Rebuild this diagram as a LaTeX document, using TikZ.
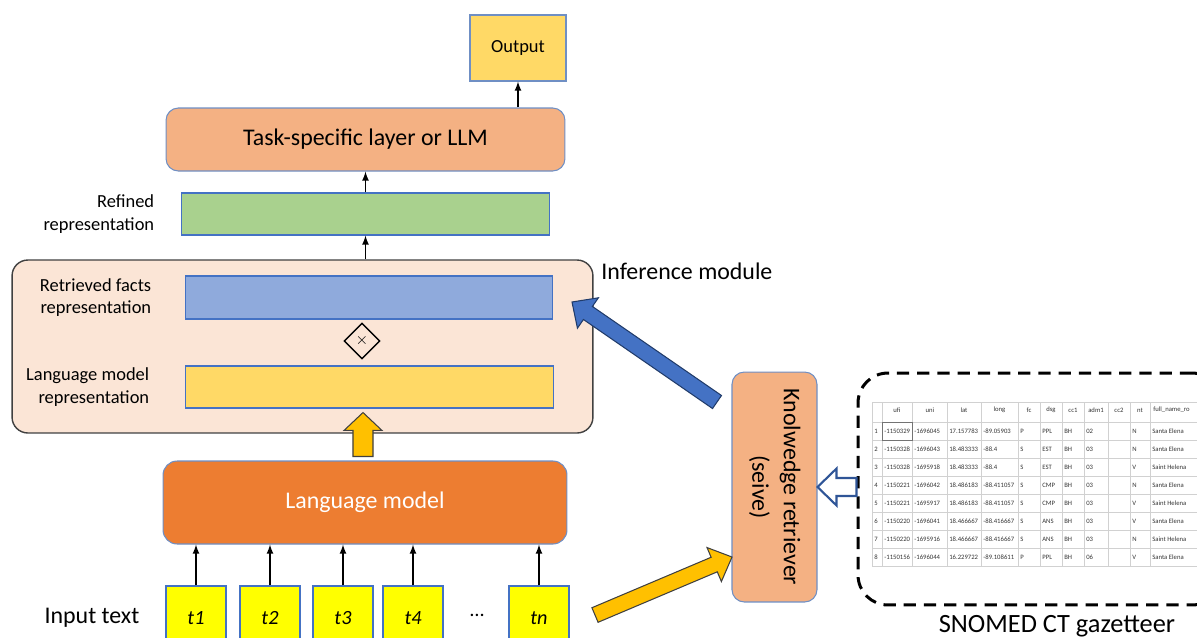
\documentclass[tikz,border=0pt]{standalone}
\usepackage{fontspec}
\setmainfont{Carlito}
\usepackage{graphicx}
\usepackage{tikz}
\usetikzlibrary{positioning,calc,shapes.geometric}

\definecolor{boxline}{HTML}{6F8FC4}
\definecolor{outfill}{HTML}{FFD966}
\definecolor{taskfill}{HTML}{F4B183}
\definecolor{refinefill}{HTML}{A9D18E}
\definecolor{inferfill}{HTML}{FBE5D6}
\definecolor{factsfill}{HTML}{8FAADC}
\definecolor{lmfill}{HTML}{ED7D31}
\definecolor{tokfill}{HTML}{FFFF00}
\definecolor{darkblue}{HTML}{4472C4}
\definecolor{navy}{HTML}{2F5597}
\definecolor{amber}{HTML}{FFC000}

% block arrow: [style]{from}{to}{half shaft}{half head}{head length}
\newcommand{\blockarrow}[6][]{%
	\path (#2) coordinate (ba-s) ($(#3)!#6!(#2)$) coordinate (ba-h);
	\draw[#1] ($(ba-s)!#4!90:(#3)$) -- ($(ba-h)!#4!90:(#3)$) -- ($(ba-h)!#5!90:(#3)$) -- (#3)
		-- ($(ba-h)!#5!-90:(#3)$) -- ($(ba-h)!#4!-90:(#3)$) -- ($(ba-s)!#4!-90:(#3)$) -- cycle;}

\tikzset{
	bigtext/.style={font=\fontsize{13.6}{18}\selectfont},
	layer/.style={draw=boxline, line width=0.6pt, rounded corners=7pt, inner sep=0pt},
	bar/.style={draw=darkblue, line width=0.6pt, inner sep=0pt},
	lbl/.style={align=right, inner sep=0pt, font=\fontsize{10.5}{12.7}\selectfont},
	arr/.style={-latex, line width=0.8pt},
	token/.style={draw=darkblue, fill=tokfill, line width=0.6pt, minimum width=1.2cm, minimum height=1.28cm, inner sep=0pt, font=\fontsize{11.5}{14}\selectfont\itshape},
	amberarrow/.style={fill=amber, draw=black!75, line width=0.6pt},
	tabline/.style={draw=black!18, line width=0.3pt},
	tabcell/.style={anchor=west, inner sep=0pt, text=black!80, font=\fontsize{3.8}{4.5}\selectfont}
}

\begin{document}
\begin{tikzpicture}[x=0.02cm, y=-0.02cm]
	\useasboundingbox (0,0) rectangle (1197,637);
	\clip (0,0) rectangle (1197,637);

	% output side
	\node[layer, fill=outfill, rounded corners=0pt, minimum width=1.92cm, minimum height=1.32cm, font=\fontsize{10.5}{12}\selectfont] (out) at (518,48) {Output};
	\node[layer, bigtext, fill=taskfill, minimum width=7.98cm, minimum height=1.26cm] (task) at (365.5,139.5) {Task-specific layer or LLM};
	\node[bar, fill=refinefill, minimum width=7.38cm, minimum height=0.84cm] (refined) at (365.5,214) {};
	\node[lbl, left=0.52cm of refined] (refinedlbl) {Refined\\representation};

	% inference module
	\node[layer, draw=black!75, fill=inferfill, rounded corners=9pt, line width=0.8pt, minimum width=11.62cm, minimum height=3.46cm] (infer) at (302.5,346.5) {};
	\node[bigtext, anchor=base west, inner sep=0pt] (inferlbl) at (601,279) {Inference module};
	\node[bar, fill=factsfill, minimum width=7.36cm, minimum height=0.86cm] (facts) at (369,297.5) {};
	\node[lbl, left=0.66cm of facts] (factslbl) {Retrieved facts\\representation};
	\node[diamond, draw, line width=0.8pt, minimum size=0.72cm, inner sep=0pt, font=\fontsize{9}{10}\selectfont] (mult) at (362,341) {$\times$};
	\node[bar, fill=outfill, minimum width=7.38cm, minimum height=0.84cm] (lmrep) at (369.5,387) {};
	\node[lbl, left=0.7cm of lmrep] (lmreplbl) {Language model\\representation};

	% language model and tokens
	\node[layer, bigtext, fill=lmfill, text=white, rounded corners=8pt, minimum width=8.08cm, minimum height=1.66cm] (lm) at (365,502.5) {Language model};
	\node[bigtext] (input) at (92,618) {Input text};
	\foreach \k/\x in {1/196,2/270,3/343,4/413}
		\node[token] (t\k) at (\x,618) {t\k};
	\node[token] (tn) at (539,618) {tn};
	\node[font=\fontsize{11.5}{14}\selectfont] (dots) at (477,615) {\dots};

	\draw[arr] (out.south |- task.north) -- (out.south);
	\draw[arr] (refined.north) -- (task.south);
	\draw[arr] (refined.south |- infer.north) -- (refined.south);
	\foreach \k in {1,2,3,4,n}
		\draw[arr] (t\k.north) -- (t\k.north |- lm.south);

	% retriever and gazetteer
	\node[layer, bigtext, fill=taskfill, minimum width=1.7cm, minimum height=4.6cm] (retr) at (774.5,487)
		{\rotatebox{-90}{\begin{tabular}{@{}c@{}}Knolwedge retriever\\(seive)\end{tabular}}};

	\coordinate (uptail) at ($(lm.north)+(-2,-4)$);
	\coordinate (uptip) at ($(lmrep.south)+(-6.5,4)$);
	\blockarrow[amberarrow]{uptail}{uptip}{5.7pt}{10.8pt}{10.2pt}
	\coordinate (bluetail) at (717,402);
	\coordinate (bluetip) at (572,302);
	\blockarrow[fill=darkblue, draw=navy!70!black, line width=0.6pt]{bluetail}{bluetip}{4.5pt}{10.5pt}{11pt}
	\coordinate (ambertail) at (595,615);
	\coordinate (ambertip) at (732,557);
	\blockarrow[amberarrow]{ambertail}{ambertip}{4.5pt}{10.5pt}{11pt}

	\node[draw, line width=1.7pt, dash pattern=on 7pt off 4.5pt, rounded corners=17pt, minimum width=7.28cm, minimum height=4.64cm] (gaz) at (1040,489) {};
	\blockarrow[fill=white, draw=navy, line width=1.2pt]{gaz.west |- retr.east}{retr.east}{5.1pt}{10.5pt}{10.8pt}
	\node[font=\fontsize{15}{18}\selectfont] (gazlbl) at (1057,626) {SNOMED CT gazetteer};

	% gazetteer table
	\foreach \y in {402,422.5,440.5,...,566.5}
		\draw[tabline] (872,\y) -- (1197,\y);
	\foreach \x in {872,882,912,947,981,1018,1040,1062,1084,1108,1130,1150}
		\draw[tabline] (\x,402) -- (\x,567);
	\draw[black!55, line width=0.5pt] (882,422.5) rectangle (912,440.5);
	\foreach \hd/\x in {ufi/897,uni/930,lat/964,long/999.5,fc/1029,dsg/1051,cc1/1073,adm1/1096,cc2/1119,nt/1140}
		\node[tabcell, anchor=center] at (\x,410) {\hd};
	\node[tabcell] at (1153,410) {full\_name\_ro};
	\foreach \vufi/\vuni/\vlat/\vlon/\vfc/\vdsg/\vcc/\vadm/\vnt/\vname [count=\row] in {
		-1150329/-1696045/17.157783/-89.05903/P/PPL/BH/02/N/Santa Elena,
		-1150328/-1696043/18.483333/-88.4/S/EST/BH/03/N/Santa Elena,
		-1150328/-1695918/18.483333/-88.4/S/EST/BH/03/V/Saint Helena,
		-1150221/-1696042/18.486183/-88.411057/S/CMP/BH/03/N/Santa Elena,
		-1150221/-1695917/18.486183/-88.411057/S/CMP/BH/03/V/Saint Helena,
		-1150220/-1696041/18.466667/-88.416667/S/ANS/BH/03/V/Santa Elena,
		-1150220/-1695916/18.466667/-88.416667/S/ANS/BH/03/N/Saint Helena,
		-1150156/-1696044/16.229722/-89.108611/P/PPL/BH/06/V/Santa Elena}
	{
		\node[tabcell] at (874,{413.5+18*\row}) {\row};
		\node[tabcell] at (884,{413.5+18*\row}) {\vufi};
		\node[tabcell] at (914,{413.5+18*\row}) {\vuni};
		\node[tabcell] at (949,{413.5+18*\row}) {\vlat};
		\node[tabcell] at (983,{413.5+18*\row}) {\vlon};
		\node[tabcell] at (1020,{413.5+18*\row}) {\vfc};
		\node[tabcell] at (1042,{413.5+18*\row}) {\vdsg};
		\node[tabcell] at (1064,{413.5+18*\row}) {\vcc};
		\node[tabcell] at (1086,{413.5+18*\row}) {\vadm};
		\node[tabcell] at (1132,{413.5+18*\row}) {\vnt};
		\node[tabcell] at (1152,{413.5+18*\row}) {\vname};
	}
\end{tikzpicture}
\end{document}
